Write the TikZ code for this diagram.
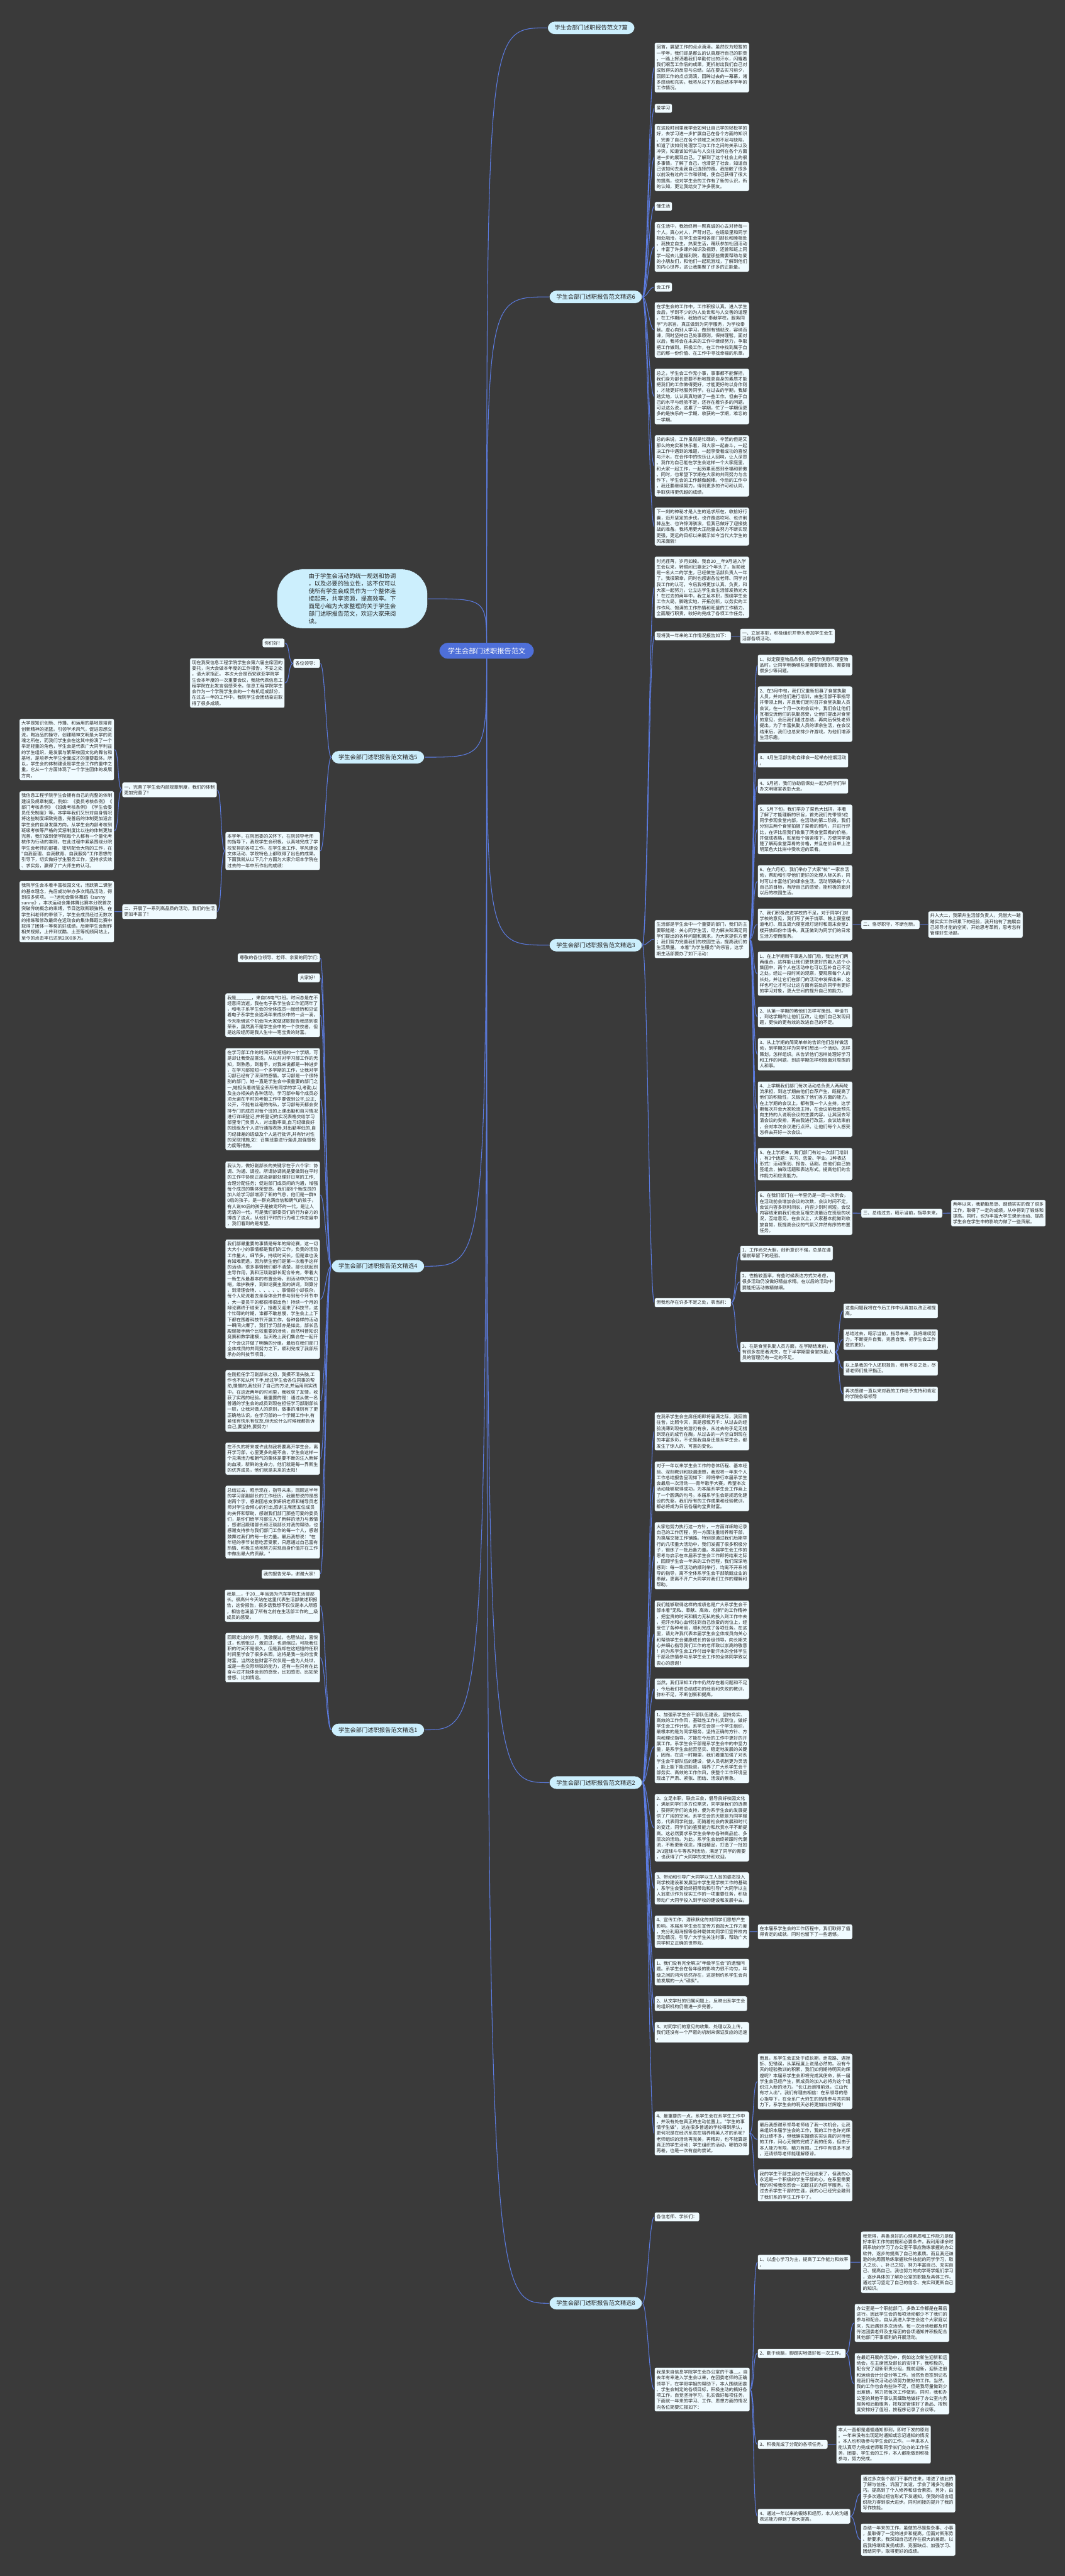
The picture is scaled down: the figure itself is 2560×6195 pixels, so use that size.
\documentclass[tikz,border=0pt]{standalone}
\usepackage{fontspec}
\newfontfamily\cjk{Noto Sans CJK SC}
\pgfdeclarelayer{bg}
\pgfsetlayers{bg,main}
\definecolor{bgc}{HTML}{3A3A3A}
\definecolor{leafc}{HTML}{F0FBFF}
\definecolor{brc}{HTML}{CCEFFD}
\definecolor{linec}{HTML}{5B7BE0}
\definecolor{rootc}{HTML}{4E6FD9}
\definecolor{txtc}{HTML}{262626}
\tikzset{
  leaf/.style={draw=black!80, fill=leafc, rounded corners=4pt, inner xsep=5pt, inner ysep=6pt, align=left, font=\cjk\fontsize{10.9}{14}\selectfont, text=txtc, line width=0.8pt},
  lw/.style={leaf, anchor=north west},
  le/.style={leaf, anchor=north east},
  brnode/.style={draw=black!80, fill=brc, rounded corners=17pt, inner xsep=17pt, inner ysep=9pt, font=\cjk\fontsize{14}{16}\selectfont, text=txtc, line width=0.8pt},
  rootnode/.style={fill=rootc, rounded corners=20pt, inner xsep=20pt, inner ysep=11pt, font=\cjk\fontsize{17}{20}\selectfont, text=white},
  bubble/.style={draw=black!80, fill=brc, rounded corners=62pt, inner xsep=76pt, inner ysep=10pt, align=left, font=\cjk\fontsize{14}{18.3}\selectfont, text=txtc, line width=0.8pt},
  con/.style={draw=linec, line width=1.6pt},
}
\newcommand\cR[2]{\draw[con] (#1.east) .. controls +(12,0) and +(-12,0) .. (#2.west);}
\newcommand\cL[2]{\draw[con] (#1.west) .. controls +(-12,0) and +(12,0) .. (#2.east);}
\newcommand\cRoot[2]{\draw[con] (#1.center) .. controls (#1.center |- #2.west) .. (#2.west);}
\newcommand\cRootL[2]{\draw[con] (#1.center) .. controls (#1.center |- #2.east) .. (#2.east);}
\begin{document}
\begin{tikzpicture}[x=1pt,y=-1pt]
\useasboundingbox (0,0) rectangle (2560,6195);
\begin{pgfonlayer}{bg}
\fill[bgc] (0,0) rectangle (2560,6195);
\end{pgfonlayer}

% ---------- root ----------
\node[rootnode] (root) at (1170,1565) {学生会部门述职报告范文};

% ---------- right branch nodes ----------
\node[brnode, anchor=west] (b7) at (1316,67) {学生会部门述职报告范文7篇};
\node[brnode, anchor=west] (b6) at (1320,714) {学生会部门述职报告范文精选6};
\node[brnode, anchor=west] (b3) at (1320,2273) {学生会部门述职报告范文精选3};
\node[brnode, anchor=west] (b2) at (1320,4287) {学生会部门述职报告范文精选2};
\node[brnode, anchor=west] (b8) at (1320,5539) {学生会部门述职报告范文精选8};

% ---------- left branch nodes ----------
\node[bubble] (bub) at (847,1440) {由于学生会活动的统一规划和协调\\，以及必要的独立性，这不仅可以\\使所有学生会成员作为一个整体连\\接起来，共享资源，提高效率。下\\面是小编为大家整理的关于学生会\\部门述职报告范文，欢迎大家来阅\\读。};
\node[brnode, anchor=east] (b5) at (1021,1821) {学生会部门述职报告范文精选5};
\node[brnode, anchor=east] (b4) at (1021,3045) {学生会部门述职报告范文精选4};
\node[brnode, anchor=east] (b1) at (1021,4160) {学生会部门述职报告范文精选1};

% ---------- 精选6 ----------
\node[lw] (r6a) at (1573,102) {回首，展望工作的点点滴滴。虽然仅为短暂的\\一学年，我们却是那么的认真履行自己的职责\\。一路上挥洒着我们辛勤付出的汗水，闪耀着\\我们艰苦工作后的成果，更折射出我们自己对\\成败得失的反思与总结。站在要去实习前夕，\\回顾工作的点点滴滴，回眸过去的一幕幕，诸\\多感动和充实。我将从以下方面总结本学年的\\工作情况。};
\node[lw] (r6b) at (1573,249) {爱学习};
\node[lw] (r6c) at (1573,297) {在这段时间里我学会如何让自己学的轻松学的\\好，去学习进一步扩展自己在各个方面的知识\\。完善了自己在各个领域之间的不足与缺陷，\\知道了该如何处理学习与工作之间的关系以及\\冲突，知道该如何去与人交往如何在各个方面\\进一步的展现自己。了解到了这个社会上的很\\多事情，了解了自己，也清楚了社会，知道自\\己该如何去走我自己选择的路。我接触了很多\\以前没有过的工作和领域，使自己获得了很大\\的提高，也对学生会的工作有了新的认识，新\\的认知，更让我结交了许多朋友。};
\node[lw] (r6d) at (1573,485) {懂生活};
\node[lw] (r6e) at (1573,533) {在生活中，我始终用一颗真诚的心去对待每一\\个人。真心对人，严苛对己。在班级里和同学\\相处融洽，在学生会里和各部门部长和睦相处\\。我独立自主，热爱生活，踊跃参加社团活动\\，丰富了许多课外知识及视野，还曾和班上同\\学一起去儿童福利院，看望那些需要帮助与爱\\的小朋友们，和他们一起玩游戏，了解到他们\\的内心世界，这让我集聚了许多的正能量。};
\node[lw] (r6f) at (1573,679) {会工作};
\node[lw] (r6g) at (1573,726) {在学生会的工作中，工作积极认真。进入学生\\会后，学到不少的为人处世和与人交善的道理\\。在工作期间，我始终以"奉献学校，服务同\\学"为宗旨，真正做到为同学服务，为学校奉\\献。虚心向别人学习，做到有错就改，容纳百\\谏，同时坚持自己处事原则，保持理智。面对\\以后，我将会在未来的工作中继续努力，争取\\把工作做到。积极工作，在工作中找到属于自\\己的那一份价值、在工作中寻找幸福的乐章。};
\node[lw] (r6h) at (1573,886) {总之，学生会工作无小事，事事都不能懈担，\\我们身为部长更要不断地提高自身的素质才能\\把我们的工作做得更好，才能更好的以身作则\\，才能更好地服务同学。在过去的学期，我脚\\踏实地，认认真真地做了一些工作。但由于自\\己的水平与经验不足，还存在着许多的问题。\\可以这么说，这累了一学期，忙了一学期但更\\多的是快乐的一学期，收获的一学期，难忘的\\一学期。};
\node[lw] (r6i) at (1573,1046) {总的来说，工作虽然是忙碌的、辛苦的但是又\\那么的充实和快乐着，和大家一起奋斗，一起\\决工作中遇到的难题，一起享受着成功的喜悦\\与汗水，在合作中的快乐让人回味，让人深思\\。我作为自己能在学生会这样一个大家庭里，\\和大家一起工作，一起劳累而感到幸福和骄傲\\。同时，也希望下学期在大家的共同努力与合\\作下，学生会的工作越做越棒。今后的工作中\\，我还要继续努力，得到更多的许可和认同，\\争取获得更优越的成绩。};
\node[lw] (r6j) at (1573,1220) {下一刻的神秘才是人生的追求所在，收拾好行\\囊，迈开坚定的步伐，也许路途坎坷、也许荆\\棘丛生、也许惊涛骇浪，但我已做好了迎接挑\\战的准备。我将用更大正能量去努力不断实现\\更强，更远的目标以来展示如今当代大学生的\\风采面貌！};

% ---------- 精选3 ----------
\node[lw] (r3a) at (1573,1338) {时光荏苒，岁月如梭。我自20\_\_年9月进入学\\生会以来，转眼间已靠近2个年头了，当前我\\是一名大二的学生，已经做生活部负责人一年\\了。我很荣幸，同时也感谢各位老师、同学对\\我工作的认可，今后我将更加认真、负责，和\\大家一起努力，让立达学生会生活部发扬光大\\！在过去的两年中，我立足本职，围绕学生会\\工作大局，脚踏实地，开拓创新，以务实的工\\作作风、饱满的工作热情和旺盛的工作精力，\\全面履行职责，较好的完成了各项工作任务。};
\node[lw] (r3b) at (1573,1518) {现将我一年来的工作情况报告如下：};
\node[lw] (r3b1) at (1779,1511) {一、立足本职，积极组织并带头参加学生会生\\活部各项活动。};
\node[lw] (r3c) at (1573,2212) {生活部是学生会中一个重要的部门，我们的主\\要职能是：关心同学生活，尽力解决和满足同\\学们提出的各种问题和需求，为大家提供方便\\；我们努力完善我们的校园生活，提高我们的\\生活质量。 本着"为学生服务"的宗旨，这学\\期生活部要办了如下活动：};
\node[lw] (r3ca) at (1821,1574) {1、拟定寝室物品条例，在同学使用坏寝室物\\品时，让同学明确哪些是需要赔偿的、需要赔\\偿多少等问题。};
\node[lw] (r3cb) at (1821,1650) {2、在3月中旬，我们又重新招募了食堂执勤\\人员，并对他们进行培训，由生活部干事指导\\并带领上岗，并且我们定时召开食堂执勤人员\\会议，在一个月一次的会议中，我们会让他们\\互相交流他们的执勤感受，让他们提出对食堂\\的意见，会后我们通过总结，再向后保处老师\\提出。为了丰富执勤人员的课余生活，在会议\\结束后，我们也总安排少许游戏，为他们增添\\生活乐趣。};
\node[lw] (r3cc) at (1821,1810) {3、4月生活部协助自律会一起举办控烟活动\\。};
\node[lw] (r3cd) at (1821,1872) {4、5月初，我们协助后保处一起为同学们举\\办文明寝室表彰大会。};
\node[lw] (r3ce) at (1821,1934) {5、5月下旬，我们举办了菜色大比拼，本着\\了解了才能理解的宗旨，首先我们先带领5位\\同学参观食堂内部。在活动的第二阶段，我们\\分别去两个食堂拍摄了菜肴的照片，并进行评\\比，在评比后我们收集了两食堂菜肴的价格，\\并做成表格，贴至每个宿舍楼下，方便同学清\\楚了解两食堂菜肴的价格，并且在价目单上注\\明菜色大比拼中受欢迎的菜肴。};
\node[lw] (r3cf) at (1821,2080) {6、在六月初，我们举办了大家"校" 一家亲活\\动，帮助和引导他们更好的处理人际关系，同\\时可以丰富他们的课余生活。活动明确每个人\\自己的目标，有所自己的感受，能积极的面对\\以后的校园生活。};
\node[lw] (r3cg) at (1821,2184) {7、我们积极改进学校的不足，对于同学们对\\学校的意见，我们写了关于烧草、晚上寝室楼\\道电灯、周五周六寝室熄灯延时和周末食堂2\\楼开放四份申请书。真正做到为同学们的日常\\生活方便而服务。};
\node[lw] (r3cg1) at (2070,2212) {二、恪尽职守，不断创新。};
\node[lw] (r3cg2) at (2231,2191) {升入大二，我荣升生活部负责人，凭借大一踏\\踏实实工作积累下的经验，我开始有了施展自\\己领导才能的空间，开始思考革新，思考怎样\\管理好生活部。};
\node[lw] (r3ch) at (1821,2288) {1、在上学期新干事进入部门后，我让他们两\\两组合，这样能让他们更快更好的融入这个小\\集团中，两个人在活动中也可以互补自己不足\\之处。经过一段时间的观察，要观察每个人的\\长处，并让它们在部门的活动中发挥出来，这\\样也可让才可以让这方面有弱处的同学有更好\\的学习对象，更大空间的提升自己的能力。};
\node[lw] (r3ci) at (1821,2420) {2、从第一学期的教他们怎样写策划、申请书\\。到这学期的让他们互改，让他们自己发现问\\题，更快的更有效的改进自己的不足。};
\node[lw] (r3cj) at (1821,2496) {3、从上学期的简简单单的告诉他们怎样做活\\动，到学期怎样为同学们想出一个活动，怎样\\策划，怎样组织。从告诉他们怎样处理好学习\\和工作的问题，到这学期怎样积极面对周围的\\人和事。};
\node[lw] (r3ck) at (1821,2600) {4、上学期我们部门每次活动总负责人两两轮\\流承担，到这学期由他们自荐产生，既提高了\\他们的积极性，又锻炼了他们各方面的能力。\\在上学期的会议上，都有我一个人主持。这学\\期每次开会大家轮流主持，在会议前我会预先\\向主持的人说明会议的主要内容，让其回去写\\清会议的安排，再由我进行改正，会议结束前\\，会对本次会议进行点评。让他们每个人感受\\怎样去开好一次会议。};
\node[lw] (r3cl) at (1821,2760) {5、在上学期末，我们部门有过一次部门培训\\，有3个话题：实习、恋爱、学业。3种表达\\形式：活动策划、报告、话剧。由他们自己抽\\签组合，抽取话题和表达形式。提高他们的合\\作能力和应变能力。};
\node[lw] (r3cm) at (1821,2864) {6、在我们部门在一年里仍是一周一次例会，\\在活动前会增加会议的次数，会议时间不定，\\会议内容多则时间长，内容少则时间短。会议\\内容结束前我们也会互相交流最近在班级的状\\况，互给意见。在会议上，大家基本能做到收\\放自如，既提高会议的气氛又井然有序的布置\\任务。};
\node[lw] (r3cm1) at (2070,2906) {三、总结过去，昭示当前，指导未来。};
\node[lw] (r3cm2) at (2286,2885) {两年以来，我勤勤恳恳、踏踏实实的做了很多\\工作，取得了一定的成绩，从中得到了锻炼和\\提高。同时，也为丰富大学生课余活动、提高\\学生会在学生中的影响力做了一些贡献。};
\node[lw] (r3d) at (1573,3121) {但我也存在许多不足之处，表当前：};
\node[lw] (r3d1) at (1779,2995) {1、工作尚欠大胆，创新意识不强，总是在遵\\循前辈留下的经验。};
\node[lw] (r3d2) at (1779,3057) {2、性格较直率，有些时候表达方式欠考虑，\\很多活动仍没做好精益求精。在以后的活动中\\要能把活动做精做细。};
\node[lw] (r3d3) at (1779,3226) {3、在是食堂执勤人员方面，在学期结束前，\\有很多志愿者流失，在下半学期里食堂执勤人\\员的管理仍有一定的不足。};
\node[lw] (r3d3a) at (2027,3134) {这些问题我将在今后工作中认真加以改正和提\\高。};
\node[lw] (r3d3b) at (2027,3196) {总结过去，昭示当前，指导未来，我将继续努\\力，不断提升自我，完善自我，把学生会工作\\做的更好。};
\node[lw] (r3d3c) at (2027,3272) {以上是我的个人述职报告，若有不妥之处，尽\\请老师们批评指正。};
\node[lw] (r3d3d) at (2027,3334) {再次感谢一直以来对我的工作给予支持和肯定\\的学院各级领导};

% ---------- 精选2 ----------
\node[lw] (r2a) at (1573,3396) {在我系学生会主席任期即将届满之际，我回首\\往昔，比照今天，真是感慨万千：从过去的经\\验浅薄到现在的游刃有余，从过去的手足无措\\到现在的成竹在胸，从过去的一片空白到现在\\的丰富多彩，不论是我自身还是系学生会，都\\发生了惊人的、可喜的变化。};
\node[lw] (r2b) at (1573,3514) {对于一年以来学生会工作的总体历程、基本经\\验、深刻教训和缺漏遗憾，我现将一年来个人\\工作总结报告呈现如下：即将举行本届系学生\\会最后一次活动——青年歌手大赛。希望本次\\活动能够取得成功，为本届系学生会工作画上\\了一个圆满的句号。本届系学生会是规范化建\\设的先驱，我们所有的工作成果和经验教训，\\都必将成为日后各届的宝贵财富。};
\node[lw] (r2c) at (1573,3660) {大家也努力执行这一方针，一方面详细地记录\\自己的工作历程，另一方面注重培养新干部，\\为换届交接工作铺路。特别是通过我们后期举\\行的几项重大活动中，我们发掘了很多积极分\\子，锻炼了一批后备力量。本届学生会工作的\\思考与启示在本届系学生会工作即将结束之际\\，回顾学生会一年来的工作历程，我们深深地\\感到：每一项活动的顺利举行，均离不开系领\\导的指导，离不全体系学生会干部兢兢业业的\\奉献，更离不开广大同学对我们工作的理解和\\帮助。};
\node[lw] (r2d) at (1573,3848) {我们能够取得这样的成绩也是广大系学生会干\\部本着"无私、奉献、高效、创新"的工作精神\\，把宝贵的时间和精力无私的投入到工作中去\\，把汗水和心血倾注到自己热爱的岗位上，经\\受住了各种考验，顺利完成了各项任务。在这\\里，请允许我代表本届学生会全体成员向关心\\和帮助学生会健康成长的各级领导，向长期关\\心并细心指导我们工作的老师致以崇高的敬意\\！向为系学生会工作付出辛勤汗水的全体学生\\干部及热情参与系学生会工作的全体同学致以\\衷心的感谢！};
\node[lw] (r2e) at (1573,4036) {当然，我们深知工作中仍然存在着问题和不足\\，今后我们将总结成功的经验和失败的教训，\\弥补不足，不断创新和提高。};
\node[lw] (r2f) at (1573,4112) {1、加强系学生会干部队伍建设，坚持务实、\\高效的工作作风，基础性工作扎实到位，做好\\学生会工作计划。系学生会是一个学生组织，\\最根本的是为同学服务，坚持正确的方针、方\\向和理论指导，才能在今后的工作中更好的开\\展工作。系学生会干部是系学生会中的中坚力\\量，是系学生会能否坚实、稳定地发展的关键\\，因而，在这一时期里，我们着重加强了对系\\学生会干部队伍的建设，使人员机制更为灵活\\，能上能下能进能退，培养了广大系学生会干\\部务实、高效的工作作风，使整个工作环境呈\\现出了严肃、紧张、团结、活泼的景象。};
\node[lw] (r2g) at (1573,4314) {2、立足本职，联合三会，倡导良好校园文化\\，满足同学们多方位需求，同学是我们的选票\\，获得同学们的支持，便为系学生会的发展提\\供了广阔的空间。系学生会的天职是为同学服\\务，代表同学利益。而随着社会的发展和时代\\的变迁，同学们的鉴赏能力和欣赏水平不断提\\高。这必然要求系学生会举办各种高品位、多\\层次的活动。为此，系学生会始终紧跟时代潮\\流，不断更新观念，推出精品，打造了一批如\\3V3篮球斗牛等系列活动，满足了同学的需要\\，也获得了广大同学的支持和欢迎。};
\node[lw] (r2h) at (1573,4502) {3、带动和引导广大同学以主人翁的姿态投入\\到学校建设和发展当中学生是学校工作的基础\\，系学生会要始终把带动和引导广大同学以主\\人翁意识作为现实工作的一项重要任务，积极\\带动广大同学投入到学校的建设和发展中去。};
\node[lw] (r2i) at (1573,4606) {4、宣传工作，潜移默化的对同学们思想产生\\影响。本届系学生会在宣传方面加大工作力度\\，充分利用海报等各种载体向同学们宣传校内\\活动情况，引导广大学生关注时事，帮助广大\\同学树立正确的世界观。};
\node[lw] (r2i1) at (1821,4627) {在本届系学生会的工作历程中，我们取得了值\\得肯定的成就，同时也留下了一些遗憾。};
\node[lw] (r2j) at (1573,4710) {1、我们没有完全解决"年级学生会"的遗留问\\题。系学生会在各年级的影响力很不均匀，年\\级之间的鸿沟依然存在，这是制约系学生会向\\前发展的一大"顽疾"。};
\node[lw] (r2k) at (1573,4800) {2、从文学社的归属问题上，反映出系学生会\\的组织机构仍需进一步完善。};
\node[lw] (r2l) at (1573,4862) {3、对同学们的意见的收集、处理以及上传，\\我们还没有一个严密的机制来保证反应的迅速\\。};
\node[lw] (r2m) at (1573,5077) {4、最重要的一点，系学生会在系学生工作中\\，并没有处在真正的主动位置上。"学生的事\\情学生做"，这在很多普通的学校得到承认，\\更何况是在经济系志在培养精英人才的系呢?\\老师组织的活动再完美，再精彩，也不能算是\\真正的学生活动；学生组织的活动，哪怕办得\\再差，也是一次有益的尝试。};
\node[lw] (r2m1) at (1821,4938) {而且，系学生会正处于成长期，走弯路、遇挫\\折、犯错误，从某程度上说是必然的。没有今\\天的经验教训的积累，我们如何期待明天的辉\\煌呢？本届系学生会即将完成其使命，新一届\\学生会已经产生，新成员的加入必将为这个组\\织注入新的活力。"长江后浪推前浪，江山代\\有才人出"。我们有理由相信：在系领导的悉\\心指导下，在全系广大师生的热情参与共同努\\力下，系学生会的明天必将更加灿烂辉煌！};
\node[lw] (r2m2) at (1821,5098) {最后我感谢系领导老师给了我一次机会，让我\\来组织本届学生会的工作，我的工作也许光辉\\的业绩不多，但我确实踏踏实实认真的对待我\\的工作，问心无愧的完成了我的任务，但由于\\本人能力有限，精力有限。工作中有很多不足\\，还请领导老师能理解原谅。};
\node[lw] (r2m3) at (1821,5216) {我的学生干部生涯也许已经结束了，但我的心\\永远是一个积极的学生干部的心。在系里需要\\我的时候我依然会一如既往的为同学服务。在\\过去系学生干部的生涯，我的心已经完全融到\\了我们系的学生工作中了。};

% ---------- 精选8 ----------
\node[lw] (r8a) at (1573,5320) {各位老师、学长们：};
\node[lw] (r8b) at (1573,5693) {我是来自信息学院学生会办公室的干事\_\_。自\\去年有幸进入学生会以来，在团委老师的正确\\领导下，在学哥学姐的帮助下，本人围绕团委\\、学生会制定的各项目标，积极主动的搞好各\\项工作，自觉坚持学习，扎实做好每项任务，\\下面就一年来的学习、工作、思想方面的情况\\向各位简要汇报如下：};
\node[lw] (r8b1) at (1821,5422) {1、以虚心学习为主，提高了工作能力和效率\\。};
\node[lw] (r8b1a) at (2069,5366) {我觉得，具备良好的心理素质和工作能力是做\\好本职工作的前提和必要条件。我利用课余时\\间系统的学习了办公室干事应熟练掌握的办公\\软件，逐步的提高了自己的素质。而且我还谦\\逊的向周围熟练掌握软件技能的同学学习，取\\人之长、、补己之短，努力丰富自己、充实自\\己、提高自己。我也努力的向学哥学姐们学习\\，逐步具体的了解办公室的职能及具体工作，\\通过学习坚定了自己的信念、充实和更新自己\\的知识。};
\node[lw] (r8b2) at (1821,5648) {2、勤于动脑，脚踏实地做好每一次工作。};
\node[lw] (r8b2a) at (2054,5540) {办公室是一个职能部门，多数工作都是在幕后\\进行。因此学生会的每项活动都少不了我们的\\参与和配合。自从我进入学生会这个大家庭以\\来，先后遇到多次活动。每一次活动我都及时\\传达团委老师及主席团的各项通知并积极配合\\其他部门干事顺利的开展活动。};
\node[lw] (r8b2b) at (2054,5658) {在最近开展的活动中，例如这次新生迎新和运\\动会，在主席团及部长的安排下，我积极的,\\配合完了迎新职责分组，提前迎新，迎新注册\\和运动会计分查分等工作。当然负责签到记名\\是我们每次活动必须努力做好的工作。当然，\\我的工作也会有些许不足，但是我尽量做到少\\出差错，努力把每次工作做到。同时，我和办\\公室的其他干事认真细致地做好了办公室内务\\服务和后勤服务，按规定管理好了备品、按制\\度安排好了值班，按程序记录了会议等。};
\node[lw] (r8b3) at (1821,5867) {3、积极完成了分配的各项任务。};
\node[lw] (r8b3a) at (2010,5832) {本人一直都是遵循通知即到，即时下发的原则\\。一年来没有出现延时通知或忘记通知的情况\\。本人也积极参与学生会的工作。一年来本人\\能认真尽力完成老师和同学长们交办的工作任\\务，团委、学生会的工作，本人都能做到积极\\参与，努力完成。};
\node[lw] (r8b4) at (1821,6033) {4、通过一年以来的锻炼和经历，本人的沟通\\表达能力得到了很大提高。};
\node[lw] (r8b4a) at (2069,5950) {通过多次各个部门干事的往来，增进了彼此的\\了解与信任。巩固了友谊，学会了诸多沟通技\\巧。提高到了个人修养和综合素质。另外，由\\于多次通过短信形式下发通知，使我的语言组\\织能力得到很大进步。同时间接的提升了我的\\写作技能。};
\node[lw] (r8b4b) at (2069,6068) {总结一年来的工作，虽做的尽是些杂事、小事\\，虽取得了一定的进步和提高，但面对新形势\\、新要求，我深知自己还存在很大的差距。以\\后我将继续发扬成绩、克服缺点、加强学习、\\团结同学，取得更好的成绩。};

% ---------- 精选5 ----------
\node[le] (l5x) at (770,1584) {各位领导：};
\node[le] (l5x1) at (685,1535) {你们好！};
\node[le] (l5x2) at (685,1582) {现在我受信息工程学院学生会第六届主席团的\\委托，向大会做本年度的工作报告，不妥之处\\，请大家指正。 本次大会是西安欧亚学院学\\生会本年度的一次重要会议，我能代表信息工\\程学院在此发言倍感荣幸。信息工程学院学生\\会作为一个学院学生会的一个有机组成部分，\\在过去一年的工作中，我院学生会团结奋进取\\得了很多成绩。};
\node[le] (l5y) at (770,2000) {本学年，在院团委的关怀下，在院领导老师\\的指导下，我院学生会积极，认真地完成了学\\校安排的各项工作。在学生会工作、学风建设\\文体活动、学院特色上都取得了出色的成果。\\下面我就从以下几个方面为大家介绍本学院在\\过去的一年中所作出的成绩：};
\node[le] (l5y1) at (522,1881) {一、完善了学生会内部规章制度，我们的体制\\更加完善了！};
\node[le] (l5y1a) at (275,1728) {大学是知识创新、传播、和运用的基地是培育\\创新精神的摇篮。引领学术风气，促进思想交\\流，陶冶品的操守，创建精神文明是大学的灵\\魂之所在，而我们学生会在这其中扮演了一个\\举足轻重的角色，学生会是代表广大同学利益\\的学生组织，是发展与繁荣校园文化的舞台和\\基地，是培养大学生全面成才的重要载体。所\\以，学生会的体制建设是学生会工作的重中之\\重。它从一个方面体现了一个学生团体的发展\\方向。};
\node[le] (l5y1b) at (275,1902) {我信息工程学院学生会拥有自己的完整的体制\\建设及规章制度。例如：《委员考核条例》《\\部门考核条例》《班级考核条例》《学生会委\\员任免制度》等。本学年我们又针对自身情况\\将这些制度细致完善，完善后的体制更加适合\\学生会的自身发展方向，从学生会内部考核到\\班级考核等严格的奖惩制度比以往的体制更加\\完善，我们做到使学院每个人都有一个量化考\\核作为行动的准则，在此过程中紧紧围绕分院\\学生会老师的部署，密切配合大院的工作，在\\"自我管理、自我教育、自我服务"工作思想的\\引导下，切实做好学生服务工作，坚持求实效\\、求实务，赢得了广大师生的认可。};
\node[le] (l5y2) at (522,2174) {二、开展了一系列高品质的活动，我们的生活\\更加丰富了！};
\node[le] (l5y2a) at (275,2118) {我院学生会本着丰富校园文化，活跃第二课堂\\的基本理念，先后成功举办多次精品活动，得\\到很多奖项。 一?运动会集体舞蹈《sunny\\sunny》。本次运动会集体舞比赛本分院首次\\突破传统概念的束缚，节目选取新颖独特。在\\学生科老师的带领下，学生会成员经过无数次\\的排练和修改最终在运动会的集体舞蹈比赛中\\取得了团体一等奖的好成绩。后期学生会制作\\相关视频，上传到优酷、土豆等视频网站上，\\至今的点击率已达到2000多万。};

% ---------- 精选4 ----------
\node[le] (l4a) at (770,2292) {尊敬的各位领导、老师、亲爱的同学们:};
\node[le] (l4b) at (770,2340) {大家好！};
\node[le] (l4c) at (770,2388) {我是\_\_\_\_\_\_，来自08电气2班。时间总是在不\\经意间流逝，我在电子系学生会工作近两年了\\，和电子系学生会的全体成员一起经历和见证\\着电子系学生会这两年来成长中的一点一滴，\\今天能借这个机会向大家做述职报告我感到很\\荣幸，虽然我不是学生会中的一个佼佼者，但\\是这段经历是我人生中一笔宝贵的财富。};
\node[le] (l4d) at (770,2520) {在学习部工作的时间只有短短的一个学期，可\\是却让我受益匪浅，从以前对学习部工作的无\\知，到熟悉，到着手，对我来说都是一种进步\\，在学习部短短一个多学期的工作，让我对学\\习部已经有了深深的感情。学习部是一个很特\\别的部门，她一直是学生会中很重要的部门之\\一,她担负着统管全系所有同学的学习,考勤,以\\及主办相关的各种活动，学习部中每个成员必\\须允诺在平时的考勤工作中要做到公平,公正,\\公开，不能有丝毫的徇私，学习部每天都会安\\排专门的成员对每个班的上课出勤和自习情况\\进行详细登记,并将登记的实况表格交给学习\\部里专门负责人，对出勤率高,自习纪律良好\\的班级及个人进行通报表扬,对出勤率低的,自\\习纪律差的班级及个人进行批评,并有针对性\\的采取措施,如：召集班委进行强调,加强督检\\力度等措施。};
\node[le] (l4e) at (770,2792) {我认为，做好副部长的关键字在于六个字：协\\调、沟通、调控。所谓协调就是要做到在平时\\的工作中协助正部及副部处理好日常的工作,\\合理分配任务；促进部门成员间的沟通，增强\\每个成员的集体荣誉感。我们部8个新成员的\\加入给学习部增添了新的气息，他们是一群9\\0后的孩子，是一群充满自信和朝气的孩子，\\有人说90后的孩子是被宠坏的一代，是让人\\无语的一代，可是我们部委员们的行为奋力的\\搏击了这点，从他们平时的行为和工作态度中\\，我们看到的是希望。};
\node[le] (l4f) at (770,2980) {我们部最重要的事情是每年的辩论赛，这一切\\大大小小的事情都是我们的工作，负责的活动\\工作量大，细节多，持续时间长，但是谁也没\\有知难而退，因为新生他们是第一次着手这样\\的活动，很多事情他们都不清楚，部长就起到\\主导作用，我和汪琰副部长配合补充，带着大\\一新生从最基本的布置会场，到活动中的吹口\\哨，维护秩序，到辩论赛主席的讲词，到算分\\，到清理会场、、、、、、事情很小却很杂，\\每个人轮流着去亲身体会并参与到每个环节中\\，大一委员干的都很棒很出色！持续一个月的\\辩论赛终于结束了，接着又迎来了科技节，这\\个忙碌的时期，谁都不敢怠慢，学生会上上下\\下都在围着科技节开展工作，各种各样的活动\\一瞬间火爆了。我们学习部亦是如此，部长吕\\殿瑞接手两个比较重要的活动，自然科普知识\\竞赛和数学建模，当天晚上我们集合在一起开\\了个会议并做了明确的分组，最后在我们部门\\全体成员的共同努力之下，顺利完成了我部所\\承办的科技节项目。};
\node[le] (l4g) at (770,3294) {在刚担任学习副部长之初，我摸不清头脑,工\\作也不知从何下手,经过学生会各位同事的帮\\助,慢慢的,我找到了自己的方法,并运用到实践\\中。在这近两年的时间里，我收获了友情，收\\获了实践的经验。最重要的是：通过从做一名\\普通的学生会的成员到现在担任学习部副部长\\一职，让我对做人的原则，做事的准则有了更\\正确地认识。在学习部的一个学期工作中,有\\紧张有快乐有忧愁,但无论什么时候我都告诉\\自己,要坚持,要努力！};
\node[le] (l4h) at (770,3468) {在不久的将来或许此刻我将要离开学生会，离\\开学习部，心里更多的是不舍，学生会这样一\\个充满活力和朝气的集体是要不断的注入新鲜\\的血液，新鲜的生命力，他们就是每一界新生\\的优秀成员，他们就是未来的太阳！};
\node[le] (l4i) at (770,3572) {总结过去，昭示现在，指导未来，回顾这半年\\的学习部副部长的工作经历，我最想说的是感\\谢两个字，感谢团总支李妍妍老师和辅导员老\\师对学生会倾心的付出,感谢主席团五位成员\\的关怀和帮助，感谢我们部门那些可爱的委员\\们，是你们给学习部注入了新鲜的活力与激情\\，感谢吕殿瑞部长和汪琰部长对我的帮助，也\\感谢支持参与我们部门工作的每一个人，感谢\\鼓舞过我们的每一份力量。最后我想说："在\\年轻的季节甘愿吃苦受累，只愿通过自己富有\\热情、积极主动地努力实现自身价值并在工作\\中做出最大的贡献。"};
\node[le] (l4j) at (770,3774) {我的报告完毕，谢谢大家！};

% ---------- 精选1 ----------
\node[le] (l1a) at (770,3822) {我是\_\_，于20\_\_年当选为汽车学院生活部部\\长。很高兴今天站在这里代表生活部做述职报\\告，这份报告，很多话我想不仅仅是本人所感\\，相信也涵盖了所有之前在生活部工作的\_\_级\\成员的感受。};
\node[le] (l1b) at (770,3926) {回顾走过的岁月，我傲慢过，也胆怯过，喜悦\\过，也惆怅过，激进过，也退缩过。可能我任\\职的时间不是很久，但是我却在这短短的任职\\时间里学会了很多东西，这将是我一生的宝贵\\财富。当然这些财富不仅仅是一些为人处世，\\或是一些交际辩驳的能力，还有一些只有在此\\奋斗过才能体会到的感受，比如感恩、比如荣\\誉感、比如情谊。};

% ---------- connectors ----------
\begin{pgfonlayer}{bg}
\cRoot{root}{b7}\cRoot{root}{b6}\cRoot{root}{b3}\cRoot{root}{b2}\cRoot{root}{b8}
\cRootL{root}{bub}\cRootL{root}{b5}\cRootL{root}{b4}\cRootL{root}{b1}
\foreach \c in {r6a,r6b,r6c,r6d,r6e,r6f,r6g,r6h,r6i,r6j}{\cR{b6}{\c}}
\foreach \c in {r3a,r3b,r3c,r3d}{\cR{b3}{\c}}
\cR{r3b}{r3b1}
\foreach \c in {r3ca,r3cb,r3cc,r3cd,r3ce,r3cf,r3cg,r3ch,r3ci,r3cj,r3ck,r3cl,r3cm}{\cR{r3c}{\c}}
\cR{r3cg}{r3cg1}\cR{r3cg1}{r3cg2}\cR{r3cm}{r3cm1}\cR{r3cm1}{r3cm2}
\foreach \c in {r3d1,r3d2,r3d3}{\cR{r3d}{\c}}
\foreach \c in {r3d3a,r3d3b,r3d3c,r3d3d}{\cR{r3d3}{\c}}
\foreach \c in {r2a,r2b,r2c,r2d,r2e,r2f,r2g,r2h,r2i,r2j,r2k,r2l,r2m}{\cR{b2}{\c}}
\cR{r2i}{r2i1}
\foreach \c in {r2m1,r2m2,r2m3}{\cR{r2m}{\c}}
\cR{b8}{r8a}\cR{b8}{r8b}
\foreach \c in {r8b1,r8b2,r8b3,r8b4}{\cR{r8b}{\c}}
\cR{r8b1}{r8b1a}\cR{r8b2}{r8b2a}\cR{r8b2}{r8b2b}\cR{r8b3}{r8b3a}\cR{r8b4}{r8b4a}\cR{r8b4}{r8b4b}
\cL{b5}{l5x}\cL{b5}{l5y}\cL{l5x}{l5x1}\cL{l5x}{l5x2}
\cL{l5y}{l5y1}\cL{l5y}{l5y2}\cL{l5y1}{l5y1a}\cL{l5y1}{l5y1b}\cL{l5y2}{l5y2a}
\foreach \c in {l4a,l4b,l4c,l4d,l4e,l4f,l4g,l4h,l4i,l4j}{\cL{b4}{\c}}
\foreach \c in {l1a,l1b}{\cL{b1}{\c}}
\end{pgfonlayer}
\end{tikzpicture}
\end{document}
